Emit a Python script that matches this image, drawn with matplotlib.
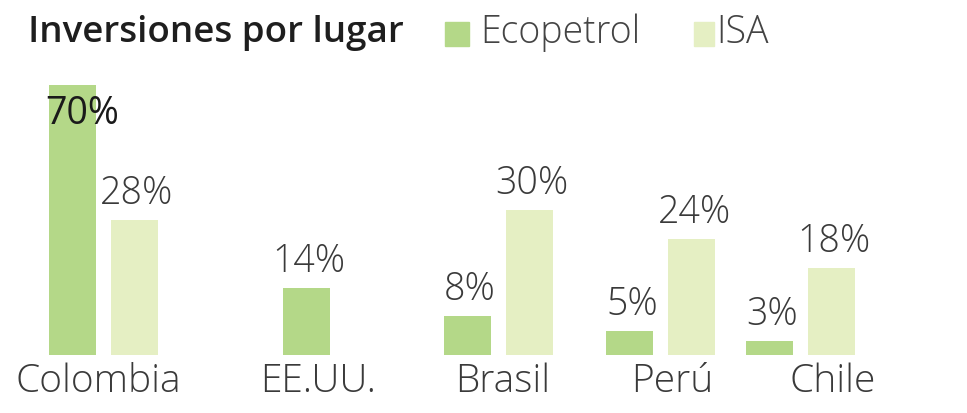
import matplotlib.pyplot as plt
import numpy as np

countries = ["Colombia", "EE.UU.", "Brasil", "Perú", "Chile"]
ecopetrol = [70, 14, 8, 5, 3]
isa = [28, np.nan, 30, 24, 18]

# layout (pixel-like x units)
group_x = [103, 306, 498, 660, 800]
label_x = [98, 318, 503, 672, 833]
offset = 31
width = 47
ymax = 56

c_eco = "#b4d888"
c_isa = "#e5efc3"
txt = "#3a3a3a"
font = "Open Sans"

fig = plt.figure(figsize=(9.67, 4.13), dpi=100)
ax = fig.add_axes([0, 58 / 413, 1, 270 / 413])
ax.set_xlim(0, 967)
ax.set_ylim(0, ymax)
ax.axis("off")


def label(x, v):
    if v > ymax:
        ax.annotate(f"{v}%", xy=(x, ymax), xytext=(10, -10), textcoords="offset pixels",
                    ha="center", va="top", fontsize=27, color="#1a1a1a", family=font,
                    annotation_clip=False)
    else:
        ax.annotate(f"{v}%", xy=(x, v), xytext=(3, 7), textcoords="offset pixels",
                    ha="center", va="bottom", fontsize=27, color=txt, family=font,
                    fontweight="light", annotation_clip=False)


for i, c in enumerate(countries):
    if np.isnan(isa[i]):
        xe = group_x[i]
    else:
        xe = group_x[i] - offset
        xi = group_x[i] + offset
        ax.bar(xi, isa[i], width=width, color=c_isa)
        label(xi, isa[i])
    ax.bar(xe, ecopetrol[i], width=width, color=c_eco)
    label(xe, ecopetrol[i])
    ax.annotate(c, xy=(label_x[i], 0), xytext=(0, -27), textcoords="offset pixels",
                ha="center", va="center", fontsize=28, color=txt, family=font,
                fontweight="light", annotation_clip=False)

fig.text(28 / 967, 1 - 33 / 413, "Inversiones por lugar", ha="left", va="center",
         fontsize=26.5, color="#1e1e1e", family=font, fontweight="semibold")

fig.patches.append(plt.Rectangle((445 / 967, 1 - 46 / 413), 24 / 967, 24 / 413,
                                 transform=fig.transFigure, color=c_eco))
fig.text(480 / 967, 1 - 33 / 413, "Ecopetrol", ha="left", va="center",
         fontsize=27, color="#444444", family=font, fontweight="light")
fig.patches.append(plt.Rectangle((694 / 967, 1 - 46 / 413), 20 / 967, 24 / 413,
                                 transform=fig.transFigure, color=c_isa))
fig.text(716 / 967, 1 - 33 / 413, "ISA", ha="left", va="center",
         fontsize=27, color="#444444", family=font, fontweight="light")

fig.savefig("out.png", dpi=100)
